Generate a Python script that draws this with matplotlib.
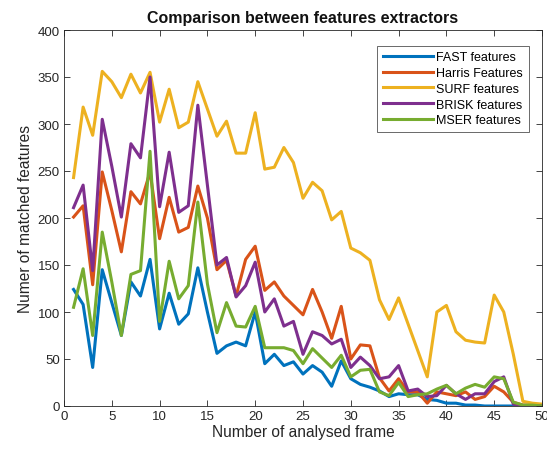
import matplotlib
matplotlib.use("Agg")
import matplotlib.pyplot as plt

plt.rcParams['font.family'] = ['Liberation Sans', 'DejaVu Sans']

frames = list(range(1, 51))
fast = [124, 108, 41, 145, 110, 75, 132, 117, 156, 82, 120, 87, 98, 147, 100,
        56, 64, 68, 64, 100, 45, 55, 43, 47, 34, 43, 36, 21, 48, 29,
        23, 20, 16, 10, 13, 12, 12, 7, 6, 3, 3, 1, 1, 0, 0, 0, 0, 0, 0, 0]
harris = [201, 213, 129, 249, 208, 164, 228, 215, 249, 178, 222, 185, 190, 234, 200,
          145, 155, 117, 156, 170, 123, 132, 117, 107, 97, 124, 100, 72, 106, 50,
          65, 64, 30, 16, 29, 15, 15, 3, 15, 13, 11, 15, 7, 10, 21, 15, 4, 1, 1, 0]
surf = [243, 318, 288, 356, 345, 328, 353, 333, 355, 302, 337, 296, 302, 345, 316,
        287, 303, 269, 269, 312, 252, 254, 275, 259, 221, 238, 229, 198, 207, 168,
        163, 155, 113, 92, 115, 87, 59, 31, 100, 107, 79, 70, 68, 67, 118, 100, 55, 5, 3, 2]
brisk = [211, 235, 144, 305, 255, 201, 279, 264, 350, 212, 270, 206, 213, 320, 235,
         150, 158, 116, 128, 153, 100, 114, 85, 90, 55, 79, 75, 66, 71, 41,
         52, 43, 29, 31, 43, 16, 18, 10, 11, 22, 13, 7, 13, 13, 26, 31, 2, 0, 0, 0]
mser = [105, 146, 75, 185, 132, 75, 140, 144, 271, 90, 154, 114, 128, 217, 130,
        78, 110, 85, 84, 106, 62, 62, 62, 59, 45, 61, 51, 41, 54, 31,
        38, 39, 15, 11, 25, 10, 12, 13, 18, 22, 13, 19, 23, 20, 31, 29, 4, 1, 1, 0]

series = [
    ("FAST features", fast, "#0072BD"),
    ("Harris Features", harris, "#D95319"),
    ("SURF features", surf, "#EDB120"),
    ("BRISK features", brisk, "#7E2F8E"),
    ("MSER features", mser, "#77AC30"),
]

fig = plt.figure(figsize=(5.47, 4.52), dpi=100)
ax = fig.add_axes([64/547, 1-407/452, (542-64)/547, (407-31)/452])
for name, vals, col in series:
    ax.plot(frames, vals, color=col, lw=2.2, label=name)

ax.set_xlim(0, 50)
ax.set_ylim(0, 400)
ax.set_xticks(range(0, 51, 5))
ax.set_yticks(range(0, 401, 50))
ax.tick_params(direction='in', top=True, right=True, length=4, width=0.6,
               labelsize=9.5, colors='#262626', labelcolor='#262626', pad=3)
for sp in ax.spines.values():
    sp.set_color('#262626')
    sp.set_linewidth(0.6)
ax.set_title("Comparison between features extractors", fontsize=11.5,
             fontweight='bold', color='#111111', pad=6)
ax.set_xlabel("Number of analysed frame", fontsize=11.2, color='#262626', labelpad=1)
ax.set_ylabel("Numer of matched features", fontsize=11.2, color='#262626', labelpad=3)

leg = ax.legend(loc='upper right', fontsize=9, handlelength=4.0, handletextpad=0.25,
                borderpad=0.45, labelspacing=0.3, frameon=True, fancybox=False,
                bbox_to_anchor=(0.985, 0.975))
leg.get_frame().set_edgecolor('#262626')
leg.get_frame().set_linewidth(0.6)

fig.savefig("out.png", dpi=100)
